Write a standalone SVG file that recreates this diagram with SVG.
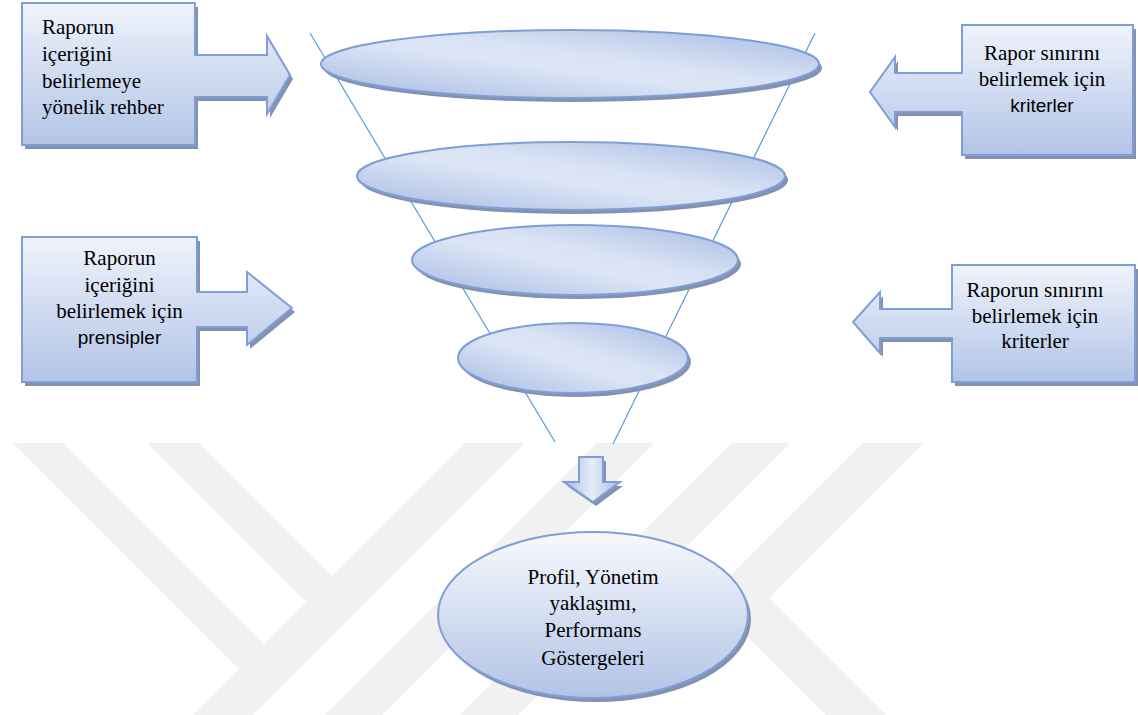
<svg xmlns="http://www.w3.org/2000/svg" width="1138" height="715" viewBox="0 0 1138 715">
<defs>
<linearGradient id="boxGrad" x1="0" y1="0" x2="0" y2="1">
<stop offset="0" stop-color="#eff3fb"/>
<stop offset="1" stop-color="#b2c4e7"/>
</linearGradient>
<linearGradient id="funGrad" x1="0" y1="1" x2="1" y2="0">
<stop offset="0" stop-color="#a4b9e3"/>
<stop offset="0.45" stop-color="#dce5f5"/>
<stop offset="0.58" stop-color="#dae3f4"/>
<stop offset="1" stop-color="#a4b9e3"/>
</linearGradient>
<linearGradient id="outGrad" x1="0" y1="0" x2="0" y2="1">
<stop offset="0" stop-color="#f8f9fd"/>
<stop offset="1" stop-color="#b1c3e6"/>
</linearGradient>
<linearGradient id="downGrad" x1="0" y1="0" x2="1" y2="0">
<stop offset="0" stop-color="#a8bce6"/>
<stop offset="0.5" stop-color="#e6ecf8"/>
<stop offset="1" stop-color="#a8bce6"/>
</linearGradient>
<style>
.wm{fill:#f1f1f1;stroke:none}
.shadow{fill:#8492b0;stroke:none}
.box{fill:url(#boxGrad);stroke:#7f9ed8;stroke-width:2;stroke-linejoin:miter}
.fun{fill:url(#funGrad);stroke:#7f9ed8;stroke-width:2}
.out{fill:url(#outGrad);stroke:#7f9ed8;stroke-width:2}
.down{fill:url(#downGrad);stroke:#7f9ed8;stroke-width:2}
.line{stroke:#5b9bd5;stroke-width:1.2;fill:none}
.t{font-family:"Liberation Serif","Times New Roman",serif;font-size:21px;fill:#000}
.s{font-family:"Liberation Sans",Arial,sans-serif;font-size:19px;fill:#000}
.c{text-anchor:middle}
</style>
</defs>
<rect width="1138" height="715" fill="#ffffff"/>
<g id="watermark">
<polygon class="wm" points="13,443 63,443 264,644 239,669"/>
<polygon class="wm" points="147,443 199,443 332,576 306,602"/>
<polygon class="wm" points="465,443 525,443 253,715 193,715"/>
<polygon class="wm" points="597,443 654,443 382,715 325,715"/>
<polygon class="wm" points="732,443 790,443 518,715 460,715"/>
<polygon class="wm" points="863,443 924,443 769,598 886,715 826,715 708.5,597.5"/>
</g>
<g id="connectors">
<line class="line" x1="310" y1="33" x2="555" y2="442"/>
<line class="line" x1="815" y1="33" x2="613" y2="444"/>
</g>
<g id="funnel1">
<ellipse class="shadow" cx="573" cy="68" rx="249" ry="34"/>
<ellipse class="fun" cx="570" cy="64" rx="249" ry="34"/>
</g>
<g id="funnel2">
<ellipse class="shadow" cx="574" cy="180" rx="214" ry="34"/>
<ellipse class="fun" cx="571" cy="176" rx="214" ry="34"/>
</g>
<g id="funnel3">
<ellipse class="shadow" cx="578" cy="264" rx="163" ry="35"/>
<ellipse class="fun" cx="575" cy="260" rx="163" ry="35"/>
</g>
<g id="funnel4">
<ellipse class="shadow" cx="576" cy="362" rx="115" ry="35"/>
<ellipse class="fun" cx="573" cy="358" rx="115" ry="35"/>
</g>
<g id="box-top-left">
<path class="shadow" d="M25,7 H198 V59 H270 V40 L293,79 L270,118 V101 H198 V149 H25 Z"/>
<path class="box" d="M22,3 H195 V55 H267 V36 L290,75 L267,114 V97 H195 V145 H22 Z"/>
<text class="t" x="42" y="34">Raporun</text>
<text class="t" x="42" y="61">içeriğini</text>
<text class="t" x="42" y="88">belirlemeye</text>
<text class="t" x="42" y="114">yönelik rehber</text>
</g>
<g id="box-top-right">
<path class="shadow" d="M965,29 H1136 V159 H965 V116 H898 V131 L873,96 L898,61 V77 H965 Z"/>
<path class="box" d="M962,25 H1133 V155 H962 V112 H895 V127 L870,92 L895,57 V73 H962 Z"/>
<text class="t c" x="1042" y="60">Rapor sınırını</text>
<text class="t c" x="1042" y="86">belirlemek için</text>
<text class="s c" x="1042" y="112">kriterler</text>
</g>
<g id="box-mid-left">
<path class="shadow" d="M25,241 H200 V296 H250 V276 L295,312 L250,349 V331 H200 V386 H25 Z"/>
<path class="box" d="M22,237 H197 V292 H247 V272 L292,308 L247,345 V327 H197 V382 H22 Z"/>
<text class="t c" x="119.5" y="265">Raporun</text>
<text class="t c" x="119.5" y="292">içeriğini</text>
<text class="t c" x="119.5" y="318">belirlemek için</text>
<text class="s c" x="119.5" y="344">prensipler</text>
</g>
<g id="box-mid-right">
<path class="shadow" d="M955,269 H1138 V386 H955 V342 H883 V357 L856,326 L883,296 V313 H955 Z"/>
<path class="box" d="M952,265 H1135 V382 H952 V338 H880 V353 L853,322 L880,292 V309 H952 Z"/>
<text class="t c" x="1035" y="297">Raporun sınırını</text>
<text class="t c" x="1035" y="323">belirlemek için</text>
<text class="t c" x="1035" y="348">kriterler</text>
</g>
<g id="arrow-down">
<path class="shadow" d="M582,461 H606 V486 H623 L596,506 L567,486 H582 Z"/>
<path class="down" d="M579,457 H603 V482 H620 L593,502 L564,482 H579 Z"/>
</g>
<g id="result">
<ellipse class="shadow" cx="596" cy="619" rx="155" ry="83"/>
<ellipse class="out" cx="593" cy="615" rx="155" ry="83"/>
<text class="t c" x="593" y="584">Profil, Yönetim</text>
<text class="t c" x="593" y="610">yaklaşımı,</text>
<text class="t c" x="593" y="637">Performans</text>
<text class="t c" x="593" y="665">Göstergeleri</text>
</g>
</svg>
